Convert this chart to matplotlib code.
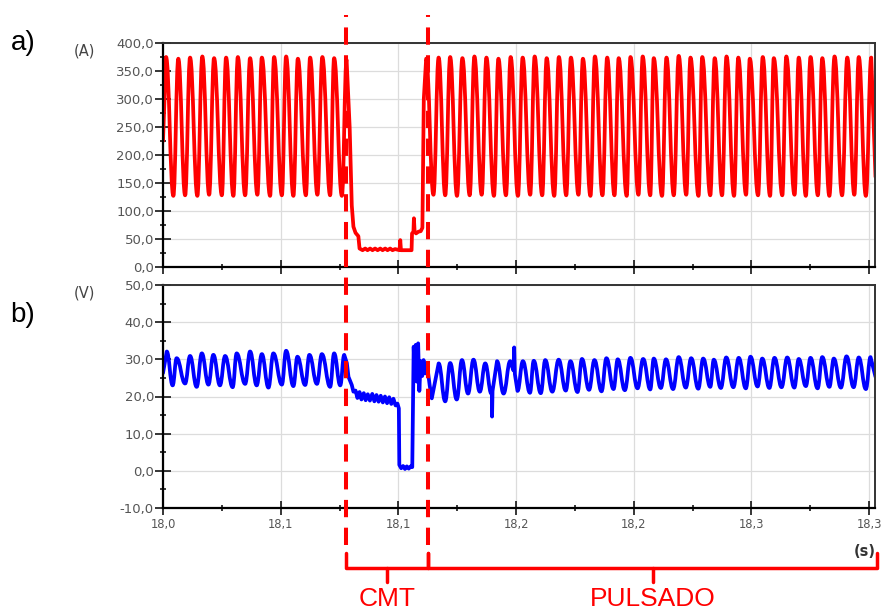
import numpy as np
import matplotlib
matplotlib.use("Agg")
import matplotlib.pyplot as plt
from matplotlib.lines import Line2D
from matplotlib.path import Path
from matplotlib.patches import PathPatch
from matplotlib.ticker import FixedLocator, MultipleLocator, FuncFormatter
from matplotlib.transforms import blended_transform_factory

# ---- data (time in ms after 18.0 s) ----
# a) current, pulsed part: peaks and troughs of each cycle
i_peak_ms = [1.3, 6.5, 11.5, 16.7, 21.7, 26.8, 31.8, 37.0, 42.0, 47.2, 52.3, 57.3, 62.5, 67.7, 72.7, 78.0,
             111.8, 117.1, 122.0, 127.2, 132.3, 137.4, 142.5, 147.7, 152.8, 157.9, 163.0, 168.2, 173.3,
             178.4, 183.5, 188.7, 193.6, 198.6, 203.8, 208.5, 213.9, 219.1, 224.1, 229.1, 234.4, 239.4,
             244.4, 249.3, 254.8, 259.5, 264.8, 270.1, 275.1, 280.1, 285.3, 290.7, 295.6, 300.9]
i_peak_A = [375, 372, 374, 376, 373, 374, 375, 373, 374, 375, 376, 372, 374, 375, 373, 370,
            372, 374, 375, 373, 376, 374, 372, 375, 374, 376, 373, 375, 374, 372, 376, 374, 373,
            375, 376, 373, 374, 377, 374, 375, 373, 376, 374, 372, 375, 373, 376, 374, 375, 373,
            376, 374, 375, 374]
i_trough_ms = [4.4, 9.4, 14.6, 19.6, 25.0, 29.9, 34.9, 40.1, 45.5, 50.5, 55.4, 60.7, 65.6, 71.0, 76.0,
               114.9, 119.9, 124.9, 130.3, 135.4, 140.6, 145.7, 150.8, 156.0, 161.1, 166.2, 171.3,
               176.5, 181.6, 186.7, 191.8, 197.0, 202.0, 207.0, 212.0, 217.0, 222.3, 227.5, 232.5,
               237.5, 242.6, 247.7, 252.8, 257.9, 263.1, 268.3, 273.1, 278.2, 283.1, 288.5, 293.7, 298.6]
i_trough_A = [127, 128, 127, 129, 128, 127, 128, 129, 127, 128, 127, 128, 129, 128, 127,
              129, 128, 127, 128, 129, 127, 128, 127, 129, 128, 127, 128, 129, 127, 128, 128,
              127, 129, 128, 127, 128, 129, 127, 128, 128, 127, 129, 128, 127, 128, 129, 127,
              128, 127, 128, 129, 127]
# current during the CMT phase (plus first / last sample)
i_cmt_ms = [0.0, 79.3, 80.2, 80.9, 81.8, 83.0, 83.5, 84.8, 85.9, 86.9, 88.0, 89.0, 90.1, 91.2, 92.3,
            93.3, 94.4, 95.4, 96.5, 97.5, 98.6, 100.5, 100.8, 101.1, 105.6, 105.8, 106.4, 106.6,
            106.9, 107.5, 108.5, 109.5, 110.2, 110.8, 302.7]
i_cmt_A = [225, 250, 110, 72, 61, 55, 33, 30, 33, 30, 33, 30, 33, 30, 33,
           30, 33, 30, 33, 30, 32, 30, 48, 30, 30, 60, 63, 87,
           63, 60, 63, 64, 70, 300, 161]

# b) voltage, pulsed part
v_peak_ms = [1.6, 5.8, 11.5, 16.5, 21.4, 26.4, 31.3, 37.0, 42.0, 46.9, 52.3, 57.1, 62.2, 67.5, 72.7, 77.0,
             117.1, 122.0, 127.0, 131.9, 136.9, 141.9, 147.5, 152.9, 157.5, 162.4, 168.1, 173.1, 178.0,
             183.3, 188.4, 193.2, 198.6, 204.0, 208.5, 213.7, 219.1, 224.4, 229.5, 234.0, 239.3, 244.6,
             249.6, 254.6, 259.8, 265.2, 270.1, 275.1, 280.1, 285.0, 290.4, 295.6, 300.6]
v_peak_V = [32.1, 30.3, 30.9, 31.6, 31.2, 30.9, 31.6, 32.1, 31.4, 31.6, 32.3, 30.7, 31.2, 31.4, 31.6, 31.2,
            28.9, 29.0, 29.8, 29.9, 28.9, 29.5, 29.5, 29.5, 29.6, 29.8, 29.9, 29.5, 30.1, 29.8, 30.3,
            30.0, 30.4, 30.1, 30.2, 30.0, 30.6, 30.3, 30.2, 29.9, 30.5, 30.4, 30.7, 30.2, 30.4, 30.5,
            30.1, 30.4, 30.6, 30.2, 30.8, 30.5, 30.6]
v_trough_ms = [4.1, 9.4, 14.3, 19.3, 24.2, 29.6, 34.9, 39.8, 44.8, 50.5, 55.4, 60.4, 65.4, 71.0, 75.3,
               119.9, 124.8, 129.6, 134.6, 139.5, 144.7, 150.6, 155.9, 160.5, 165.4, 171.1, 176.1,
               181.0, 186.3, 191.4, 196.2, 201.6, 207.0, 211.5, 216.7, 222.1, 227.4, 232.5, 237.0,
               242.3, 247.6, 252.6, 257.6, 262.8, 268.2, 273.1, 278.1, 283.1, 288.0, 293.4, 298.6]
v_trough_V = [23.0, 23.5, 22.6, 23.2, 23.0, 22.5, 23.4, 23.0, 22.4, 23.2, 22.8, 23.1, 23.4, 22.6, 23.0,
              18.7, 19.2, 20.8, 21.3, 20.8, 20.8, 21.5, 21.0, 20.9, 21.3, 21.6, 21.2, 21.8, 21.4,
              22.0, 21.7, 22.2, 21.9, 22.3, 22.0, 22.4, 22.1, 22.6, 22.3, 22.5, 22.2, 22.7, 22.3,
              22.5, 22.4, 22.8, 22.2, 22.6, 22.4, 22.5, 22.0]
# voltage during CMT, single spikes, first / last sample
v_cmt_ms = [0.0, 78.1, 78.8, 80.2, 80.9, 81.8, 82.6, 83.5, 84.3, 85.3, 86.1, 87.0, 87.9, 88.9, 89.8,
            90.7, 91.6, 92.5, 93.4, 94.3, 95.2, 96.1, 97.0, 97.9, 98.8, 99.6, 100.2, 100.4, 101.2,
            102.0, 102.8, 103.6, 104.4, 105.2, 105.9, 106.5, 107.0, 107.4, 107.8, 108.4, 108.9,
            109.5, 110.1, 110.7, 111.3, 111.9, 112.6, 113.3, 114.2,
            139.7, 139.8, 140.0, 148.9, 149.2, 149.5, 302.7]
v_cmt_V = [26.3, 29.0, 25.3, 23.1, 21.3, 21.6, 19.6, 21.2, 19.2, 20.9, 19.0, 20.6, 18.9, 20.7, 18.7,
           20.4, 18.6, 20.2, 18.4, 20.0, 18.2, 19.8, 18.0, 19.4, 17.6, 18.1, 16.8, 1.6, 0.7,
           1.3, 0.5, 1.2, 0.6, 1.2, 1.0, 33.4, 24.5, 33.9, 24.0, 34.3, 21.5,
           29.5, 25.5, 29.8, 26.2, 28.8, 26.5, 23.0, 19.5,
           21.0, 14.6, 21.5, 27.0, 33.2, 26.0, 25.3]

cmt_start_ms, cmt_end_ms, end_ms = 77.8, 112.7, 303.4
x_tick_ms = [0, 50, 100, 150, 200, 250, 300]
x_tick_labels = ["18,0", "18,1", "18,1", "18,2", "18,2", "18,3", "18,3"]


def merge(*parts):
    # parts: (times, values, is_extremum)
    t = np.concatenate([np.asarray(p[0], float) for p in parts])
    v = np.concatenate([np.asarray(p[1], float) for p in parts])
    k = np.concatenate([np.full(len(p[0]), p[2]) for p in parts])
    o = np.argsort(t, kind="stable")
    return 18.0 + t[o] / 1000.0, v[o], k[o]


def trace_path(t, v, k, f=0.42):
    # straight segments, except rounded (flat-tangent) curves between two extrema
    verts, codes = [(t[0], v[0])], [Path.MOVETO]
    for j in range(1, len(t)):
        if k[j - 1] and k[j]:
            dt = t[j] - t[j - 1]
            verts += [(t[j - 1] + f * dt, v[j - 1]), (t[j] - f * dt, v[j]), (t[j], v[j])]
            codes += [Path.CURVE4] * 3
        else:
            verts.append((t[j], v[j]))
            codes.append(Path.LINETO)
    return Path(verts, codes)


t_i, cur, k_i = merge((i_peak_ms, i_peak_A, True), (i_trough_ms, i_trough_A, True),
                      (i_cmt_ms, i_cmt_A, False))
t_v, volt, k_v = merge((v_peak_ms, v_peak_V, True), (v_trough_ms, v_trough_V, True),
                       (v_cmt_ms, v_cmt_V, False))

plt.rcParams["font.family"] = "DejaVu Sans"

fig = plt.figure(figsize=(8.82, 6.10), dpi=100)
ax1 = fig.add_axes([0.1848, 0.5623, 0.8073, 0.3672])
ax2 = fig.add_axes([0.1848, 0.1672, 0.8073, 0.3656])

ax1.add_patch(PathPatch(trace_path(t_i, cur, k_i), fill=False, edgecolor="#ff0000", lw=2.7,
                        joinstyle="round", capstyle="round"))
ax2.add_patch(PathPatch(trace_path(t_v, volt, k_v), fill=False, edgecolor="#0000ff", lw=2.7,
                        joinstyle="round", capstyle="round"))

fmt = FuncFormatter(lambda v, p: f"{v:.1f}".replace(".", ","))
for ax, (lo, hi, step) in ((ax1, (0, 400, 50)), (ax2, (-10, 50, 10))):
    ax.set_xlim(18.0, 18.0 + 302.5 / 1000)
    ax.set_ylim(lo, hi)
    ax.xaxis.set_major_locator(FixedLocator([18.0 + m / 1000 for m in x_tick_ms]))
    ax.xaxis.set_minor_locator(MultipleLocator(0.025))
    ax.yaxis.set_major_locator(MultipleLocator(step))
    ax.yaxis.set_minor_locator(MultipleLocator(step / 2))
    ax.yaxis.set_major_formatter(fmt)
    ax.grid(True, which="major", color="#dcdcdc", lw=0.9)
    ax.set_axisbelow(True)
    ax.tick_params(axis="y", which="major", direction="inout", length=11, width=1.1,
                   pad=1, labelsize=9.5, labelcolor="#555555")
    ax.tick_params(axis="y", which="minor", direction="inout", length=5, width=1.1)
    ax.tick_params(axis="x", which="major", direction="inout", length=10, width=1.1,
                   pad=2, labelsize=8.3, labelcolor="#555555")
    ax.tick_params(axis="x", which="minor", direction="inout", length=5, width=1.1)
    for s in ("left", "bottom"):
        ax.spines[s].set_linewidth(1.6)
        ax.spines[s].set_color("black")
    for s in ("top", "right"):
        ax.spines[s].set_linewidth(1.4)
        ax.spines[s].set_color("#333333")

ax1.set_xticklabels([])
ax2.set_xticklabels(x_tick_labels)

# labels
fig.text(0.0955, 0.9156, "(A)", ha="center", va="center", fontsize=10.5, color="#444444")
fig.text(0.0955, 0.5197, "(V)", ha="center", va="center", fontsize=10.5, color="#444444")
fig.text(0.980, 0.0967, "(s)", ha="center", va="center", fontsize=10.5,
         fontweight="bold", color="#333333")
fig.text(0.012, 0.918, "a)", ha="left", va="baseline", fontsize=20, family="Liberation Sans")
fig.text(0.012, 0.472, "b)", ha="left", va="baseline", fontsize=20, family="Liberation Sans")

# CMT / PULSADO markers
tr = blended_transform_factory(ax2.transData, fig.transFigure)
for m in (cmt_start_ms, cmt_end_ms):
    x = 18.0 + m / 1000
    fig.add_artist(Line2D([x, x], [0.1066, 0.9754], transform=tr, color="#ff0000", lw=2.9,
                          linestyle=(0, (4.3, 2.6)), zorder=10, clip_on=False))

for a, b, name in ((cmt_start_ms, cmt_end_ms, "CMT"), (cmt_end_ms, end_ms, "PULSADO")):
    xa, xb = 18.0 + a / 1000, 18.0 + b / 1000
    xm = (xa + xb) / 2
    fig.add_artist(Line2D([xa, xa, xb, xb], [0.0934, 0.0689, 0.0689, 0.0934], transform=tr,
                          color="#ff0000", lw=2.5, solid_joinstyle="round",
                          solid_capstyle="round", clip_on=False))
    fig.add_artist(Line2D([xm, xm], [0.0689, 0.0459], transform=tr, color="#ff0000", lw=2.5,
                          solid_capstyle="round", clip_on=False))
    fig.text(xm, 0.006, name, transform=tr, ha="center", va="baseline", fontsize=19,
             color="#ff0000", family="Liberation Sans")

fig.savefig("out.png", dpi=100)
